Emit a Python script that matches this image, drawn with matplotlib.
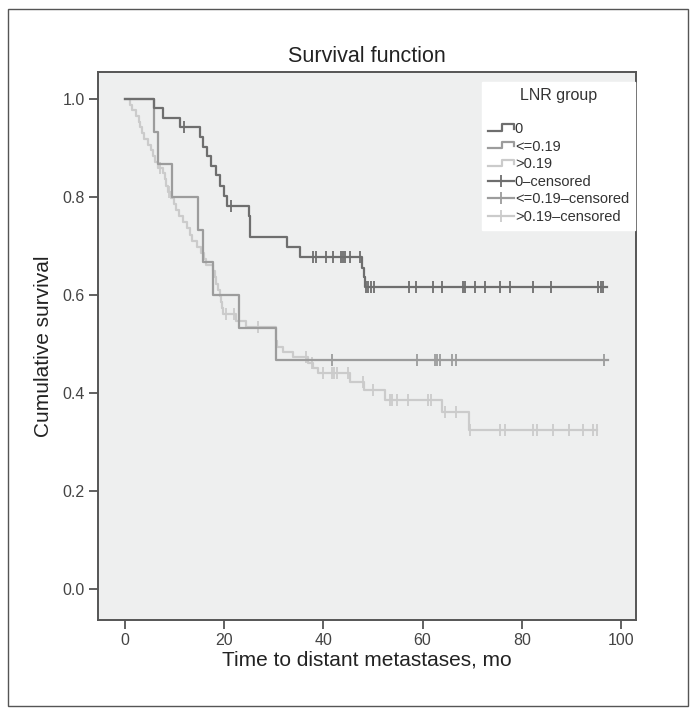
import numpy as np
import matplotlib.pyplot as plt
from matplotlib.lines import Line2D
from matplotlib.legend_handler import HandlerBase
from matplotlib.patches import Rectangle

plt.rcParams['font.family'] = ['Liberation Sans', 'DejaVu Sans']

# LNR group 0 : event times / survival after each step, censored times
t_g0 = [0, 5.8, 7.6, 11.1, 15.1, 15.7, 16.6, 17.4, 18.3, 19.2, 19.9, 20.6,
        25.1, 25.2, 25.3, 32.7, 35.3, 47.7, 48.1, 48.3]
s_g0 = [1.0, 0.981, 0.962, 0.943, 0.923, 0.903, 0.884, 0.864, 0.844, 0.823,
        0.803, 0.782, 0.761, 0.740, 0.718, 0.697, 0.677, 0.655, 0.636, 0.617]
c_g0 = [11.9, 21.3, 38.0, 38.6, 40.5, 42.0, 43.5, 44.0, 44.4, 45.4, 47.4,
        48.6, 49.1, 49.7, 50.2, 57.3, 58.7, 62.1, 64.0, 68.2, 68.5, 70.6,
        72.6, 75.6, 77.6, 82.3, 85.8, 95.4, 96.0, 96.4]
end_g0 = 97.1

# LNR group <=0.19
t_g1 = [0, 5.8, 6.7, 9.6, 14.8, 15.8, 17.7, 23.1, 30.4]
s_g1 = [1.0, 0.933, 0.867, 0.800, 0.733, 0.667, 0.600, 0.533, 0.467]
c_g1 = [41.7, 58.9, 62.5, 63.0, 63.6, 66.0, 66.7, 96.6]
end_g1 = 97.4

# LNR group >0.19
t_g2 = [0, 1.0, 1.5, 2.2, 2.8, 3.1, 3.5, 3.8, 4.6, 5.2, 5.7, 6.1, 6.6,
        7.6, 8.0, 8.4, 8.7, 9.3, 9.9, 10.4, 11.0, 11.8, 12.6, 13.1, 13.5,
        14.6, 15.3, 15.9, 16.4, 17.8, 18.1, 18.4, 18.8, 19.2, 19.4, 19.6,
        19.8, 22.4, 24.5, 30.4, 30.5, 30.6, 31.9, 33.9, 37.0, 38.0, 38.9,
        45.4, 48.2, 52.4, 64.0, 69.4]
s_g2 = [1.0, 0.988, 0.977, 0.965, 0.953, 0.942, 0.930, 0.919, 0.907, 0.895,
        0.884, 0.872, 0.860, 0.848, 0.836, 0.823, 0.811, 0.798, 0.786, 0.773,
        0.761, 0.748, 0.736, 0.723, 0.711, 0.698, 0.686, 0.673, 0.661, 0.648,
        0.636, 0.623, 0.610, 0.598, 0.585, 0.573, 0.561, 0.547, 0.534, 0.521,
        0.507, 0.494, 0.484, 0.474, 0.462, 0.451, 0.440, 0.423, 0.407, 0.386,
        0.362, 0.324]
c_g2 = [7.1, 8.9, 20.3, 22.0, 26.9, 36.5, 37.8, 40.0, 41.7, 42.2, 42.7,
        45.0, 47.9, 50.1, 53.4, 53.9, 54.8, 57.1, 61.1, 61.6, 64.5, 66.7,
        69.6, 75.6, 76.7, 82.3, 83.1, 86.3, 89.6, 92.3, 94.3, 95.1]
end_g2 = 95.1

labels = ['0', '<=0.19', '>0.19']
colors = ['#6e6e6e', '#9c9c9c', '#cbcbcb']


class StepHandler(HandlerBase):
    def create_artists(self, legend, orig_handle, xdescent, ydescent,
                       width, height, fontsize, trans):
        x0, y0 = -xdescent, -ydescent
        xs = [x0, x0 + 0.55 * width, x0 + 0.55 * width, x0 + width, x0 + width]
        ys = [y0 + 0.2 * height, y0 + 0.2 * height, y0 + 0.85 * height,
              y0 + 0.85 * height, y0 + 0.4 * height]
        line = Line2D(xs, ys, color=orig_handle.get_color(),
                      lw=orig_handle.get_linewidth(), transform=trans)
        return [line]


fig = plt.figure(figsize=(6.96, 7.15), dpi=100)
ax = fig.add_axes([98 / 696, 1 - 620 / 715, 538 / 696, 548 / 715])
ax.set_facecolor('#eeefef')

groups = [(t_g0, s_g0, c_g0, end_g0), (t_g1, s_g1, c_g1, end_g1),
          (t_g2, s_g2, c_g2, end_g2)]
step_handles = []
cens_handles = []
# draw light curves first so the dark one sits on top
for i in [2, 1, 0]:
    t, s, c, end = groups[i]
    t = np.array(t)
    s = np.array(s)
    c = np.array(c)
    ax.step(np.append(t, end), np.append(s, s[-1]), where='post',
            color=colors[i], lw=1.6, zorder=3 - i * 0.5)
    cy = s[np.searchsorted(t, c, side='right') - 1]
    ax.plot(c, cy, ls='none', marker='|', ms=8, mew=1.3, color=colors[i],
            zorder=3 - i * 0.5)

for i in range(3):
    step_handles.append(Line2D([], [], color=colors[i], lw=1.6))
    cens_handles.append(Line2D([], [], color=colors[i], lw=1.6, marker='|',
                               ms=9, mew=1.3))

ax.set_xlim(-5.4, 103)
ax.set_ylim(-0.063, 1.055)
ax.set_xticks(np.arange(0, 101, 20))
ax.set_yticks(np.arange(0, 1.01, 0.2))
ax.yaxis.set_major_formatter(plt.FuncFormatter(lambda v, p: f'{v:.1f}'))
ax.tick_params(direction='out', length=6.5, width=1.3, color='#555555',
               labelsize=11.5, labelcolor='#444444', pad=3)
for sp in ax.spines.values():
    sp.set_color('#555555')
    sp.set_linewidth(1.4)

ax.set_title('Survival function', fontsize=15.5, color='#222222', pad=7)
ax.set_xlabel('Time to distant metastases, mo', fontsize=15,
              color='#222222', labelpad=2)
ax.set_ylabel('Cumulative survival', fontsize=15, color='#222222',
              labelpad=7)

leg = ax.legend(step_handles + cens_handles,
                labels + [lb + '\u2013censored' for lb in labels],
                handler_map={h: StepHandler() for h in step_handles},
                title='LNR group\n', loc='upper right',
                bbox_to_anchor=(0.998, 0.981), borderaxespad=0,
                fontsize=10.5, title_fontsize=11.5, frameon=True,
                fancybox=False, framealpha=1, facecolor='white',
                edgecolor='white', handlelength=1.8, handletextpad=0.05,
                labelspacing=0.25, borderpad=0.4, alignment='center')
for txt in leg.get_texts():
    txt.set_color('#333333')
leg.get_title().set_color('#333333')
leg.get_title().set_linespacing(1.0)

fig.patches.append(Rectangle((8 / 696, 9 / 715), 680 / 696, 697 / 715,
                             transform=fig.transFigure, fill=False,
                             ec='#555555', lw=1.0))

fig.savefig('out.png', dpi=100)
